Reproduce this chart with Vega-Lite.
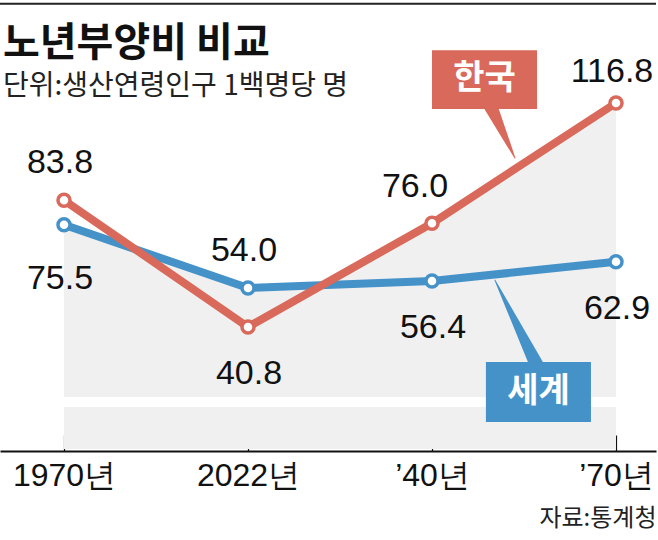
{
  "$schema": "https://vega.github.io/schema/vega-lite/v6.json",
  "width": 656,
  "height": 341,
  "autosize": {"type": "none"},
  "padding": {"left": 0, "right": 2, "top": 110, "bottom": 89},
  "background": "white",
  "config": {"view": {"stroke": null}, "font": "Liberation Sans"},
  "title": {
    "text": "노년부양비 비교",
    "subtitle": "단위:생산연령인구 1백명당 명",
    "anchor": "start",
    "frame": "group",
    "dx": 3,
    "offset": -98,
    "font": "Noto Sans CJK KR",
    "fontSize": 40,
    "fontWeight": "bold",
    "color": "#111111",
    "subtitleFont": "Noto Sans CJK KR",
    "subtitleFontSize": 28,
    "subtitleFontWeight": "normal",
    "subtitleColor": "#222222",
    "subtitlePadding": 9
  },
  "datasets": {
    "main": [
      {"s": "한국", "i": 0, "v": 83.8},
      {"s": "한국", "i": 1, "v": 40.8},
      {"s": "한국", "i": 2, "v": 76.0},
      {"s": "한국", "i": 3, "v": 116.8},
      {"s": "세계", "i": 0, "v": 75.5},
      {"s": "세계", "i": 1, "v": 54.0},
      {"s": "세계", "i": 2, "v": 56.4},
      {"s": "세계", "i": 3, "v": 62.9}
    ],
    "bg": [
      {"i": 0, "v": 75.5},
      {"i": 1, "v": 54.0},
      {"i": 1.40, "v": 55.0},
      {"i": 2, "v": 76.0},
      {"i": 3, "v": 116.8}
    ],
    "box": [
      {"s": "한국", "i": 2.0, "i2": 2.571, "v": 114.8, "v2": 134.7, "ic": 2.285, "vc": 124.8},
      {"s": "세계", "i": 2.293, "i2": 2.864, "v": 8.55, "v2": 28.9, "ic": 2.579, "vc": 18.7}
    ],
    "ptr": [
      {"s": "한국", "t": 0, "i": 2.315, "v": 116.2},
      {"s": "한국", "t": 1, "i": 2.451, "v": 98.1},
      {"s": "세계", "t": 0, "i": 2.571, "v": 27.6},
      {"s": "세계", "t": 1, "i": 2.342, "v": 56.7}
    ],
    "band": [
      {"i": 0, "i2": 3, "v": 13.6, "v2": 17.0}
    ],
    "topline": [
      {"i": -0.3478, "i2": 3.2174, "v": 150.5}
    ]
  },
  "encoding": {
    "x": {
      "field": "i",
      "type": "quantitative",
      "scale": {"domain": [-0.3478, 3.2174], "nice": false, "zero": false},
      "axis": {
        "values": [0, 1, 2, 3],
        "labelExpr": "['1970년','2022년','’40년','’70년'][datum.value]",
        "grid": false,
        "domainColor": "#111111",
        "domainWidth": 2,
        "tickColor": "#111111",
        "tickWidth": 1.2,
        "tickSize": -16,
        "labelPadding": 25,
        "labelFont": "Liberation Sans",
        "labelFontSize": 32,
        "labelColor": "#111111",
        "labelFlush": false,
        "labelOverlap": false,
        "title": "자료:통계청",
        "titleAnchor": "end",
        "titleAlign": "right",
        "titleFont": "Noto Sans CJK KR",
        "titleFontSize": 24,
        "titleFontWeight": "normal",
        "titleColor": "#222222",
        "titlePadding": 15
      }
    },
    "y": {
      "field": "v",
      "type": "quantitative",
      "scale": {"domain": [-1.29, 114.42], "nice": false, "zero": false},
      "axis": null
    }
  },
  "layer": [
    {
      "data": {"name": "bg"},
      "mark": {"type": "area", "color": "#f0f0f0"},
      "encoding": {"y2": {"datum": -0.6}}
    },
    {
      "data": {"name": "band"},
      "mark": {"type": "rect", "color": "white"},
      "encoding": {
        "x2": {"field": "i2"},
        "y2": {"field": "v2"}
      }
    },
    {
      "data": {"name": "topline"},
      "mark": {"type": "rule", "color": "#222222", "strokeWidth": 2},
      "encoding": {
        "x2": {"field": "i2"}
      }
    },
    {
      "data": {"name": "ptr"},
      "mark": {"type": "trail"},
      "encoding": {
        "color": {"field": "s", "type": "nominal", "scale": {"domain": ["한국", "세계"], "range": ["#d9695a", "#4592c9"]}, "legend": null},
        "size": {"field": "t", "type": "quantitative", "scale": {"domain": [0, 1], "range": [14, 1]}, "legend": null},
        "order": {"field": "t"}
      }
    },
    {
      "data": {"name": "main"},
      "transform": [{"filter": "datum.s == '세계'"}],
      "mark": {"type": "line", "color": "#4592c9", "strokeWidth": 8}
    },
    {
      "data": {"name": "main"},
      "transform": [{"filter": "datum.s == '한국'"}],
      "mark": {"type": "line", "color": "#d9695a", "strokeWidth": 8}
    },
    {
      "data": {"name": "main"},
      "mark": {"type": "circle", "fill": "white", "fillOpacity": 1, "opacity": 1, "size": 145, "strokeWidth": 3.5},
      "encoding": {
        "stroke": {"field": "s", "type": "nominal", "scale": {"domain": ["한국", "세계"], "range": ["#d9695a", "#4592c9"]}, "legend": null}
      }
    },
    {
      "data": {"name": "box"},
      "mark": {"type": "rect"},
      "encoding": {
        "x2": {"field": "i2"},
        "y2": {"field": "v2"},
        "color": {"field": "s", "type": "nominal", "scale": {"domain": ["한국", "세계"], "range": ["#d9695a", "#4592c9"]}, "legend": null}
      }
    },
    {
      "data": {"name": "box"},
      "mark": {"type": "text", "color": "white", "font": "Noto Sans CJK KR", "fontWeight": "bold", "fontSize": 34, "align": "center", "baseline": "middle"},
      "encoding": {
        "x": {"field": "ic", "type": "quantitative"},
        "y": {"field": "vc", "type": "quantitative"},
        "text": {"field": "s"}
      }
    },
    {
      "data": {"name": "main"},
      "transform": [{"filter": "(datum.s == '한국' && datum.i == 0) || (datum.s == '세계' && datum.i == 1)"}],
      "mark": {"type": "text", "font": "Liberation Sans", "fontSize": 34, "color": "#111111", "align": "center", "baseline": "alphabetic", "dx": -4, "dy": -27},
      "encoding": {"text": {"field": "v", "type": "quantitative", "format": ".1f"}}
    },
    {
      "data": {"name": "main"},
      "transform": [{"filter": "datum.s == '한국' && datum.i == 3"}],
      "mark": {"type": "text", "font": "Liberation Sans", "fontSize": 34, "color": "#111111", "align": "center", "baseline": "alphabetic", "dx": -4, "dy": -21},
      "encoding": {"text": {"field": "v", "type": "quantitative", "format": ".1f"}}
    },
    {
      "data": {"name": "main"},
      "transform": [{"filter": "datum.s == '한국' && datum.i == 2"}],
      "mark": {"type": "text", "font": "Liberation Sans", "fontSize": 34, "color": "#111111", "align": "center", "baseline": "alphabetic", "dx": -17, "dy": -26},
      "encoding": {"text": {"field": "v", "type": "quantitative", "format": ".1f"}}
    },
    {
      "data": {"name": "main"},
      "transform": [{"filter": "(datum.s == '한국' && datum.i == 1) || (datum.s == '세계' && datum.i >= 2)"}],
      "mark": {"type": "text", "font": "Liberation Sans", "fontSize": 34, "color": "#111111", "align": "center", "baseline": "alphabetic", "dx": 1, "dy": 57},
      "encoding": {"text": {"field": "v", "type": "quantitative", "format": ".1f"}}
    },
    {
      "data": {"name": "main"},
      "transform": [{"filter": "datum.s == '세계' && datum.i == 0"}],
      "mark": {"type": "text", "font": "Liberation Sans", "fontSize": 34, "color": "#111111", "align": "center", "baseline": "alphabetic", "dx": -4, "dy": 64},
      "encoding": {"text": {"field": "v", "type": "quantitative", "format": ".1f"}}
    }
  ]
}
